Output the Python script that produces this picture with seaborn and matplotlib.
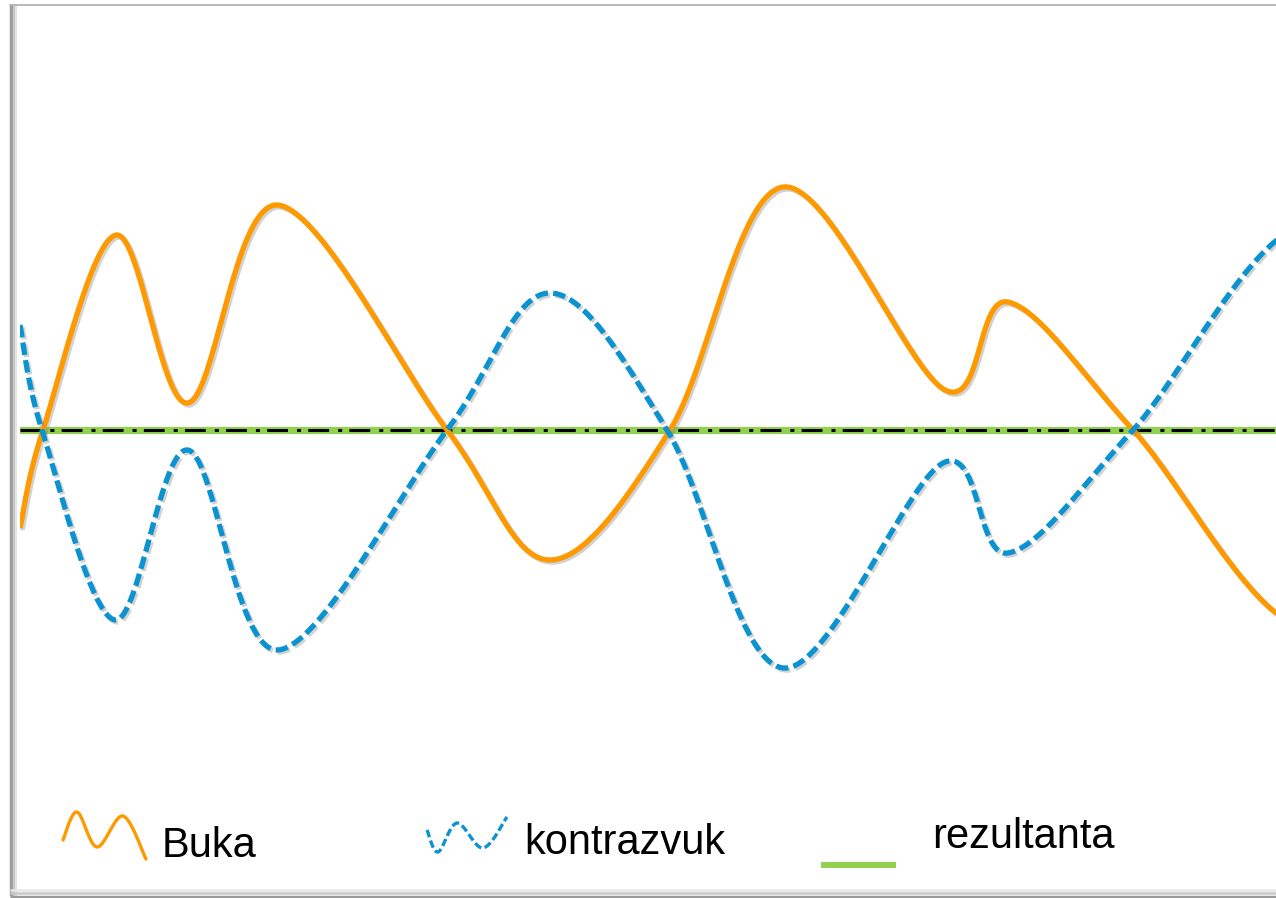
import numpy as np
import matplotlib
matplotlib.use('Agg')
import matplotlib.pyplot as plt
import matplotlib.patheffects as pe
import seaborn as sns

# key points of the waves (x in arbitrary units, y = amplitude)
buka_x = [0.20, 0.43, 1.16, 1.88, 2.78, 4.47, 5.50, 6.70, 7.83, 9.45, 10.08, 11.33, 13.10, 14.60]
buka_y = [-0.98, 0.00, 1.95, 0.27, 2.25, 0.00, -1.30, 0.00, 2.43, 0.40, 1.28, 0.00, -1.98, 0.00]
kontra_x = [0.20, 0.42, 1.15, 1.88, 2.78, 4.47, 5.50, 6.67, 7.83, 9.43, 10.08, 11.33, 13.10, 14.60]
kontra_y = [1.05, 0.00, -1.90, -0.20, -2.20, 0.00, 1.37, 0.00, -2.38, -0.33, -1.23, 0.00, 2.05, 0.00]
rez_x = [0.20, 12.76]
rez_y = [0.0, 0.0]
labels = ['Buka', 'kontrazvuk', 'rezultanta']

# legend glyph shapes (figure pixels)
icon_buka_x = [63, 77, 97, 123, 146]
icon_buka_y = [840, 812, 847, 816, 859]
icon_kontra_x = [427, 438, 457, 483, 507]
icon_kontra_y = [830, 852, 823, 848, 817]

ORANGE = '#FF9900'
BLUE = '#0A93D0'
GREEN = '#92D050'
W, H = 1276, 898


def smooth(xs, ys, n=40):
    """Bezier smoothing through the points, like a spreadsheet 'smoothed line'"""
    p = np.column_stack([xs, ys]).astype(float)
    p = np.vstack([p[0], p, p[-1]])
    t = np.linspace(0, 1, n, endpoint=False)
    out = []
    for i in range(1, len(p) - 2):
        p0, p1, p2, p3 = p[i - 1], p[i], p[i + 1], p[i + 2]
        c1 = p1 + (p2 - p0) / 6
        c2 = p2 - (p3 - p1) / 6
        seg = (((1 - t) ** 3)[:, None] * p1 + (3 * (1 - t) ** 2 * t)[:, None] * c1
               + (3 * (1 - t) * t ** 2)[:, None] * c2 + (t ** 3)[:, None] * p2)
        out.append(seg)
    out.append(p[-2][None, :])
    return np.vstack(out)


sns.set_style('white')
plt.rcParams['font.family'] = ['Liberation Sans', 'DejaVu Sans']
plt.rcParams['lines.scale_dashes'] = False

fig = plt.figure(figsize=(W / 100, H / 100), dpi=100)
ax = fig.add_axes([20 / W, 5 / H, 1256 / W, 889 / H])
ax.set_xlim(0.20, 12.76)
ax.set_ylim(-4.63, 4.26)
ax.axis('off')

shadow = [pe.SimpleLineShadow(offset=(1.5, -1.5), shadow_color='#808080', alpha=0.35), pe.Normal()]

# resultant line (green with black dash-dot overlay)
sns.lineplot(x=rez_x, y=rez_y, ax=ax, color=GREEN, linewidth=5.2, estimator=None, sort=False)
sns.lineplot(x=rez_x, y=rez_y, ax=ax, color='black', linewidth=2.2, estimator=None, sort=False)
ax.lines[-1].set_linestyle((0, (15, 6.5, 2.9, 5.2)))

b = smooth(buka_x, buka_y)
sns.lineplot(x=b[:, 0], y=b[:, 1], ax=ax, color=ORANGE, linewidth=3.8, estimator=None, sort=False)
ax.lines[-1].set_path_effects(shadow)
ax.lines[-1].set_solid_capstyle('butt')

k = smooth(kontra_x, kontra_y)
sns.lineplot(x=k[:, 0], y=k[:, 1], ax=ax, color=BLUE, linewidth=3.8, estimator=None, sort=False)
ax.lines[-1].set_linestyle((0, (9, 3.8)))
ax.lines[-1].set_path_effects(shadow)

# overlay in pixel coordinates: frame and legend
ov = fig.add_axes([0, 0, 1, 1])
ov.set_xlim(0, W)
ov.set_ylim(H, 0)
ov.axis('off')
ov.patch.set_alpha(0)

# frame with soft shadow
for xpos, col, lw in [(11, '#a0a0a0', 2.5), (13.5, '#c4c4c4', 1.8), (15.5, '#e4e4e4', 1.5)]:
    ov.plot([xpos, xpos], [4, 896], color=col, linewidth=lw, solid_capstyle='butt')
ov.plot([10, W], [4.5, 4.5], color='#b4b4b4', linewidth=1.3)
for ypos, col, lw in [(896.5, '#9a9a9a', 2.5), (893, '#c8c8c8', 1.8), (890, '#e6e6e6', 1.8)]:
    ov.plot([10, W], [ypos, ypos], color=col, linewidth=lw, solid_capstyle='butt')

# legend
ib = smooth(icon_buka_x, icon_buka_y, n=20)
ov.plot(ib[:, 0], ib[:, 1], color=ORANGE, linewidth=2.4)
ik = smooth(icon_kontra_x, icon_kontra_y, n=20)
ov.plot(ik[:, 0], ik[:, 1], color=BLUE, linewidth=2.4, linestyle=(0, (5.5, 2.5)))
ov.plot([821, 896], [865, 865], color=GREEN, linewidth=4.3, solid_capstyle='butt')

ov.text(162, 857, labels[0], fontsize=30, va='baseline', ha='left', color='black')
ov.text(524, 854, labels[1], fontsize=30, va='baseline', ha='left', color='black')
ov.text(932, 848, labels[2], fontsize=30, va='baseline', ha='left', color='black')

fig.savefig('out.png', dpi=100)
